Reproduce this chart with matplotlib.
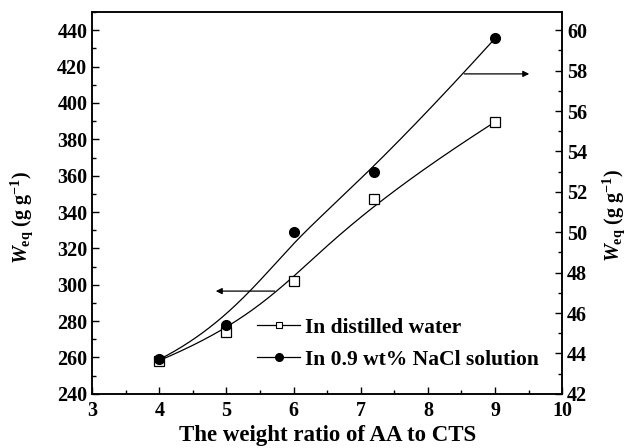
import matplotlib
matplotlib.use("Agg")
import matplotlib.pyplot as plt
import numpy as np
from matplotlib.ticker import MultipleLocator

plt.rcParams["font.family"] = ["Liberation Serif", "DejaVu Serif"]
plt.rcParams["font.weight"] = "bold"
plt.rcParams["axes.labelweight"] = "bold"
plt.rcParams["mathtext.fontset"] = "custom"
plt.rcParams["mathtext.rm"] = "Liberation Serif:bold"
plt.rcParams["mathtext.it"] = "Liberation Serif:italic:bold"
plt.rcParams["mathtext.bf"] = "Liberation Serif:bold"

ratio = [4, 5, 6, 7.2, 9]
water = [258.3, 273.9, 302.1, 347.0, 389.6]
nacl = [43.7, 45.4, 50.0, 53.0, 59.6]


def bspline(x, y, n=300):
    # clamped cubic B-spline with the data points as control points (Origin style)
    P = np.column_stack([x, y]).astype(float)
    k = len(P)
    deg = 3
    inner = k - deg
    knots = np.concatenate([np.zeros(deg), np.arange(inner + 1), np.full(deg, inner)]).astype(float)
    ts = np.linspace(0, inner, n)
    out = []
    for t in ts:
        s = min(int(t), inner - 1) + deg
        d = [P[j + s - deg].copy() for j in range(deg + 1)]
        for r in range(1, deg + 1):
            for j in range(deg, r - 1, -1):
                i = j + s - deg
                den = knots[i + deg + 1 - r] - knots[i]
                a = 0 if den == 0 else (t - knots[i]) / den
                d[j] = (1 - a) * d[j - 1] + a * d[j]
        out.append(d[deg])
    out = np.array(out)
    return out[:, 0], out[:, 1]


fig = plt.figure(figsize=(6.31, 4.48), dpi=100)
ax = fig.add_axes([0.146, 0.121, 0.745, 0.852])
ax2 = ax.twinx()

xs, ys = bspline(ratio, water)
ax.plot(xs, ys, color="black", lw=0.9)
ax.plot(ratio, water, "s", ms=6.5, mfc="white", mec="black", mew=0.9, zorder=5)

xs2, ys2 = bspline(ratio, nacl)
ax2.plot(xs2, ys2, color="black", lw=0.9)
ax2.plot(ratio, nacl, "o", ms=7, color="black", zorder=5)

ax.set_xlim(3, 10)
ax.set_ylim(240, 450)
ax2.set_ylim(42, 60.9)

ax.xaxis.set_major_locator(MultipleLocator(1))
ax.xaxis.set_minor_locator(MultipleLocator(0.5))
ax.yaxis.set_major_locator(MultipleLocator(20))
ax.yaxis.set_minor_locator(MultipleLocator(10))
ax2.yaxis.set_major_locator(MultipleLocator(2))
ax2.yaxis.set_minor_locator(MultipleLocator(1))

ax.tick_params(which="both", direction="in", top=False, right=False, labelsize=14.5, width=1)
ax.tick_params(which="major", length=5)
ax.tick_params(which="minor", length=3)
ax.tick_params(axis="x", pad=5)
ax2.tick_params(which="both", direction="in", labelsize=14.5, width=1)
ax2.tick_params(which="major", length=5)
ax2.tick_params(which="minor", length=3)
for a in (ax, ax2):
    for s in a.spines.values():
        s.set_linewidth(1.1)

ylab = r"$\mathit{W}_{\mathrm{eq}}$ (g g$^{\mathrm{-1}}$)"
ax.set_ylabel(ylab, fontsize=14.5)
ax.yaxis.set_label_coords(-0.122, 0.463)
ax2.set_ylabel(ylab, fontsize=14.5, rotation=90)
ax2.yaxis.set_label_coords(1.082, 0.468)
ax.set_xlabel("The weight ratio of AA to CTS", fontsize=16.5, labelpad=3)

ax.annotate("", xy=(4.8, 296.5), xytext=(5.76, 296.5),
            arrowprops=dict(arrowstyle="-|>", color="black", lw=0.9, mutation_scale=9))
ax.annotate("", xy=(9.55, 416), xytext=(8.5, 416),
            arrowprops=dict(arrowstyle="-|>", color="black", lw=0.9, mutation_scale=9))

h1, = ax.plot([], [], "-s", color="black", lw=0.9, ms=5, mfc="white", mec="black", mew=0.8)
h2, = ax.plot([], [], "-o", color="black", lw=0.9, ms=5.5)
ax.legend([h1, h2], ["In distilled water", "In 0.9 wt% NaCl solution"],
          loc="lower left", bbox_to_anchor=(0.333, 0.04), frameon=False,
          fontsize=15.5, handlelength=2.0, handletextpad=0.23, labelspacing=0.55,
          borderaxespad=0)

fig.savefig("out.png", dpi=100)
